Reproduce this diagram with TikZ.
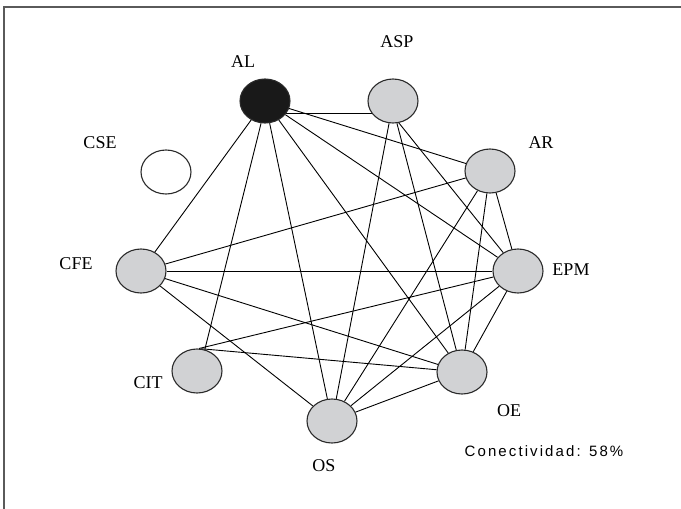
\documentclass[tikz,border=0pt]{standalone}
\usepackage{fontspec}
\setmainfont{Liberation Serif}
\newfontfamily\notefont[LetterSpace=14]{Liberation Sans}
\usetikzlibrary{shapes.geometric,backgrounds}
\definecolor{nodegray}{HTML}{D1D2D4}
\definecolor{rimgray}{HTML}{2A2A2A}
\definecolor{framegray}{HTML}{5A5A5A}
\begin{document}
\begin{tikzpicture}[x=1pt,y=-1pt,
  vertex/.style={ellipse,draw=rimgray,line width=1.1pt,fill=nodegray,
    minimum width=50pt,minimum height=44pt,inner sep=0pt},
  lead/.style={fill=black!90},
  isolated/.style={fill=white},
  tag/.style={font=\fontsize{18}{20}\selectfont,inner sep=0pt},
  link/.style={line width=0.9pt,black}]
\useasboundingbox (0,0) rectangle (681,509);
% frame
\draw[framegray,line width=2pt] (4,509) -- (4,7) -- (681,7);

% vertices
\node[vertex,lead]     (AL)  at (265,101) {};
\node[vertex]          (ASP) at (393,101) {};
\node[vertex]          (AR)  at (490,171) {};
\node[vertex,isolated] (CSE) at (166,172) {};
\node[vertex]          (CFE) at (141,271) {};
\node[vertex]          (EPM) at (518,271) {};
\node[vertex]          (CIT) at (197,371) {};
\node[vertex]          (OE)  at (462,372) {};
\node[vertex]          (OS)  at (332,421) {};

% links, kept behind the vertices
\begin{scope}[on background layer]
\foreach \a/\b in {AL/AR,AL/EPM,AL/OE,AL/OS,AL/CFE,
                   AR/CFE,AR/OS,AR/OE,AR/EPM,
                   EPM/CFE,EPM/OE,EPM/OS,
                   OE/CFE,OE/OS,
                   OS/CFE}
  \draw[link] (\a) -- (\b);
\draw[link] (AL.-30) -- (ASP.-150);
\draw[link] (AL.-100) -- (CIT.70);
\draw[link] (ASP.-100) -- (OS);
\draw[link] (ASP.-80) -- (OE);
\draw[link] (ASP.-75) -- (EPM);
\draw[link] (CIT.85) -- (EPM);
\draw[link] (CIT.80) -- (OE);
\end{scope}

% labels
\node[tag] (lAL)  at (243,62)  {AL};
\node[tag] (lASP) at (397,42)  {ASP};
\node[tag] (lCSE) at (100,143) {CSE};
\node[tag] (lAR)  at (541,143) {AR};
\node[tag] (lCFE) at (76,264)  {CFE};
\node[tag] (lEPM) at (571,270) {EPM};
\node[tag] (lCIT) at (148,383) {CIT};
\node[tag] (lOE)  at (509,411) {OE};
\node[tag] (lOS)  at (324,466) {OS};
\node[inner sep=0pt,font=\notefont\fontsize{15}{17}\selectfont] (conn) at (544,451) {Conectividad: 58\%};
\end{tikzpicture}
\end{document}
